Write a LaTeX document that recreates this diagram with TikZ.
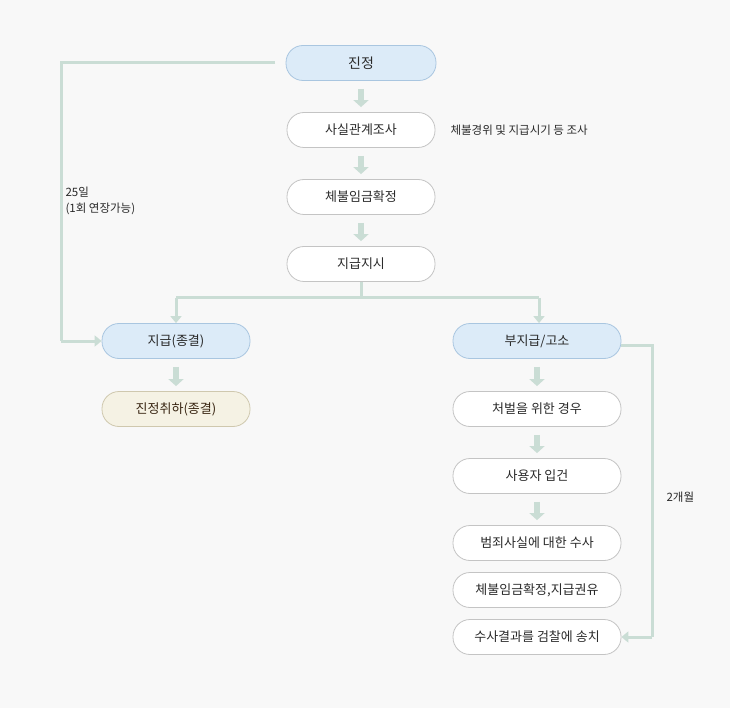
\documentclass[tikz,border=0pt]{standalone}
\usepackage{fontspec}
\setmainfont{Noto Sans CJK KR}
\usetikzlibrary{arrows.meta,calc}
\definecolor{bg}{HTML}{F8F8F8}
\definecolor{ln}{HTML}{CADDD5}
\definecolor{bl}{HTML}{DCEBF8}
\definecolor{bld}{HTML}{A9C6E0}
\definecolor{bei}{HTML}{F5F2E4}
\definecolor{beid}{HTML}{CFC8AE}
\definecolor{gr}{HTML}{C4C4C4}
\definecolor{tx}{HTML}{2A2A2A}
\tikzset{
 box/.style={draw=gr,line width=0.8pt,fill=white,rounded corners=17pt,minimum width=148pt,minimum height=35pt,font=\fontsize{13}{14}\selectfont,text=tx,inner sep=0pt},
 bbox/.style={box,draw=bld,fill=bl},
 ebox/.style={box,draw=beid,fill=bei,text=black!70!brown},
 blk/.style={ln,line width=6pt,-{Triangle[width=15pt,length=7pt]}},
 conn/.style={ln,line width=3pt,-{Triangle[width=11pt,length=7pt]}},
 lab/.style={font=\fontsize{11.5}{16}\selectfont,text=tx,align=left}
}
\begin{document}
\begin{tikzpicture}[x=1pt,y=-1pt]
\fill[bg] (0,0) rectangle (730,708);
\useasboundingbox (0,0) rectangle (730,708);
\node[bbox,minimum width=150pt,font=\fontsize{14}{15}\selectfont] (a) at (361,63) {진정};
\node[box] (b) at (361,130) {사실관계조사};
\node[box] (c) at (361,197) {체불임금확정};
\node[box] (d) at (361,264) {지급지시};
\node[bbox] (e) at (176,341) {지급(종결)};
\node[ebox] (f) at (176,409) {진정취하(종결)};
\node[bbox,minimum width=168pt] (g) at (537,341) {부지급/고소};
\node[box,minimum width=168pt] (h) at (537,409) {처벌을 위한 경우};
\node[box,minimum width=168pt] (i) at (537,476) {사용자 입건};
\node[box,minimum width=168pt] (j) at (537,543) {범죄사실에 대한 수사};
\node[box,minimum width=168pt] (k) at (537,590) {체불임금확정,지급권유};
\node[box,minimum width=168pt] (l) at (537,637) {수사결과를 검찰에 송치};
\node[lab,anchor=west] (n1) at (447,130) {체불경위 및 지급시기 등 조사};
\node[lab,anchor=west] (n2) at (62,201) {25일\\(1회 연장가능)};
\node[lab,anchor=west] (n3) at (663,497) {2개월};
\foreach \p/\q in {a/b,b/c,c/d,e/f,g/h,h/i,i/j}{
 \draw[blk] ($(\p.south)+(0,8)$) -- ($(\q.north)+(0,-5)$);
}
\coordinate (s1) at (275,63);
\coordinate (s2) at (61,63);
\coordinate (s3) at (61,341);
\draw[conn,-] (s1) -- (s2) -- (s3);
\draw[conn] (s3) -- (e.west);
\coordinate (m) at (361,298);
\coordinate (ml) at (176,298);
\coordinate (mr) at (539,298);
\draw[ln,line width=3pt] (d.south) -- (m);
\draw[ln,line width=3pt] (ml) -- (mr);
\draw[conn] (ml) -- (e.north);
\draw[conn] (mr) -- ($(g.north)+(2,0)$);
\coordinate (r1) at (652,345);
\coordinate (r2) at (652,637);
\draw[ln,line width=3pt] ($(g.east)+(0,4)$) -- (r1) -- (r2);
\draw[conn] (r2) -- (l.east);
\end{tikzpicture}
\end{document}
